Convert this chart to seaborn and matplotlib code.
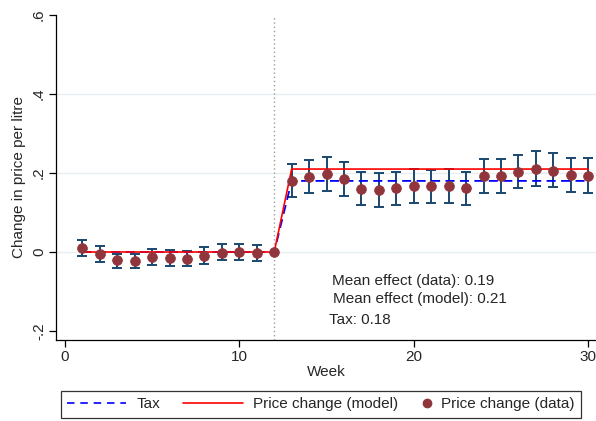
import matplotlib
matplotlib.use("Agg")
import matplotlib.pyplot as plt
import seaborn as sns
import numpy as np
import pandas as pd
from matplotlib.lines import Line2D

weeks = list(range(1, 31))
price_data = [0.009, -0.006, -0.021, -0.023, -0.013, -0.015, -0.017, -0.010, -0.002, 0.001,
              -0.002, 0.000, 0.180, 0.191, 0.197, 0.185, 0.160, 0.157, 0.161, 0.167,
              0.166, 0.168, 0.161, 0.192, 0.193, 0.203, 0.210, 0.206, 0.195, 0.193]
ci_high = [0.030, 0.015, -0.004, -0.004, 0.008, 0.004, 0.003, 0.012, 0.021, 0.021,
           0.018, 0.000, 0.223, 0.233, 0.241, 0.227, 0.202, 0.199, 0.203, 0.210,
           0.208, 0.210, 0.203, 0.235, 0.235, 0.246, 0.255, 0.250, 0.239, 0.237]
ci_low = [-0.011, -0.026, -0.040, -0.041, -0.034, -0.035, -0.035, -0.030, -0.021, -0.019,
          -0.023, 0.000, 0.138, 0.149, 0.154, 0.143, 0.118, 0.113, 0.119, 0.125,
          0.123, 0.125, 0.118, 0.149, 0.150, 0.161, 0.168, 0.164, 0.153, 0.150]
price_model = [0.0] * 12 + [0.21] * 18
tax = [0.0] * 12 + [0.18] * 18

y_ticks = [-0.2, 0, 0.2, 0.4, 0.6]
y_ticklabels = ["-.2", "0", ".2", ".4", ".6"]
x_ticks = [0, 10, 20, 30]
annotations = ["Mean effect (data): 0.19", "Mean effect (model): 0.21", "Tax: 0.18"]
legend_labels = ["Tax", "Price change (model)", "Price change (data)"]

df = pd.DataFrame({"week": weeks, "data": price_data, "lo": ci_low, "hi": ci_high,
                   "model": price_model, "tax": tax})

sns.set_style("white")
plt.rcParams["font.family"] = ["Liberation Sans", "DejaVu Sans"]
FS = 11

navy = "#1a476f"
maroon = "#90353b"

fig = plt.figure(figsize=(5.96, 4.21), dpi=100)
ax = fig.add_axes([55.7 / 596, 1 - 340 / 421, (596 - 55.7) / 596, (340 - 15) / 421])

for yt in [0, 0.2, 0.4]:
    ax.axhline(yt, color="#e6eef0", lw=1.0, zorder=0)
ax.axvline(12, color="#9a9a9a", lw=1.0, ls=(0, (1, 2)), zorder=1)

sub = df[df["hi"] != df["lo"]]
ax.errorbar(sub["week"], sub["data"],
            yerr=[sub["data"] - sub["lo"], sub["hi"] - sub["data"]],
            fmt="none", ecolor=navy, elinewidth=1.4, capsize=3.6, capthick=1.4, zorder=2)

sns.lineplot(data=df, x="week", y="tax", ax=ax, color="blue", lw=1.3,
             linestyle=(0, (5, 3)), zorder=3)
sns.lineplot(data=df, x="week", y="model", ax=ax, color="red", lw=1.2, zorder=4)
sns.scatterplot(data=df, x="week", y="data", ax=ax, color=maroon, s=50,
                edgecolor=maroon, linewidth=0.5, zorder=5)

ax.set_xlim(-0.53, 30.45)
ax.set_ylim(-0.2228, 0.6)
ax.set_yticks(y_ticks)
ax.set_yticklabels(y_ticklabels, rotation=90, va="center")
ax.set_xticks(x_ticks)
ax.tick_params(axis="both", direction="out", length=5, width=0.9, color="black",
               labelsize=FS, pad=2, left=True, bottom=True)
for s in ["top", "right"]:
    ax.spines[s].set_visible(False)
for s in ["left", "bottom"]:
    ax.spines[s].set_color("black")
    ax.spines[s].set_linewidth(0.9)
ax.set_xlabel("Week", fontsize=FS, labelpad=1)
ax.set_ylabel("Change in price per litre", fontsize=FS, labelpad=4)

ax.text(15.32, -0.074, annotations[0], fontsize=FS, va="center", ha="left")
ax.text(15.38, -0.120, annotations[1], fontsize=FS, va="center", ha="left")
ax.text(15.15, -0.171, annotations[2], fontsize=FS, va="center", ha="left")


class SizedHandler:
    """Legend handler with a per-entry handle width (in points)."""

    def __init__(self, width_pt, marker=False):
        self.width_pt = width_pt
        self.marker = marker

    def legend_artist(self, legend, orig_handle, fontsize, handlebox):
        handlebox.width = self.width_pt
        x0 = -handlebox.xdescent
        y0 = -handlebox.ydescent
        w = handlebox.width
        h = handlebox.height
        if self.marker:
            art = Line2D([x0 + w - 3.0], [y0 + h / 2], marker="o", ls="none",
                         color=orig_handle.get_color(),
                         markersize=orig_handle.get_markersize())
        else:
            art = Line2D([x0, x0 + w], [y0 + h / 2, y0 + h / 2],
                         color=orig_handle.get_color(),
                         lw=orig_handle.get_linewidth(),
                         linestyle=orig_handle.get_linestyle())
            dashes = orig_handle._unscaled_dash_pattern
            if dashes[1]:
                art.set_linestyle(dashes)
        handlebox.add_artist(art)
        return art


h_tax = Line2D([], [], color="blue", lw=1.2, linestyle=(0, (4.5, 3.5)))
h_model = Line2D([], [], color="red", lw=1.2)
h_data = Line2D([], [], color=maroon, marker="o", ls="none", markersize=6.0)
leg = fig.legend([h_tax, h_model, h_data], legend_labels, ncol=3, loc="upper left",
                 bbox_to_anchor=(61 / 596, 1 - 391 / 421), borderaxespad=0,
                 frameon=True, fancybox=False, edgecolor="black", fontsize=FS,
                 handletextpad=0.65, columnspacing=1.47, borderpad=0.42,
                 handler_map={h_tax: SizedHandler(42.5), h_model: SizedHandler(43.2),
                              h_data: SizedHandler(8.0, marker=True)})
leg.get_frame().set_linewidth(0.9)

fig.savefig("out.png", dpi=100)
